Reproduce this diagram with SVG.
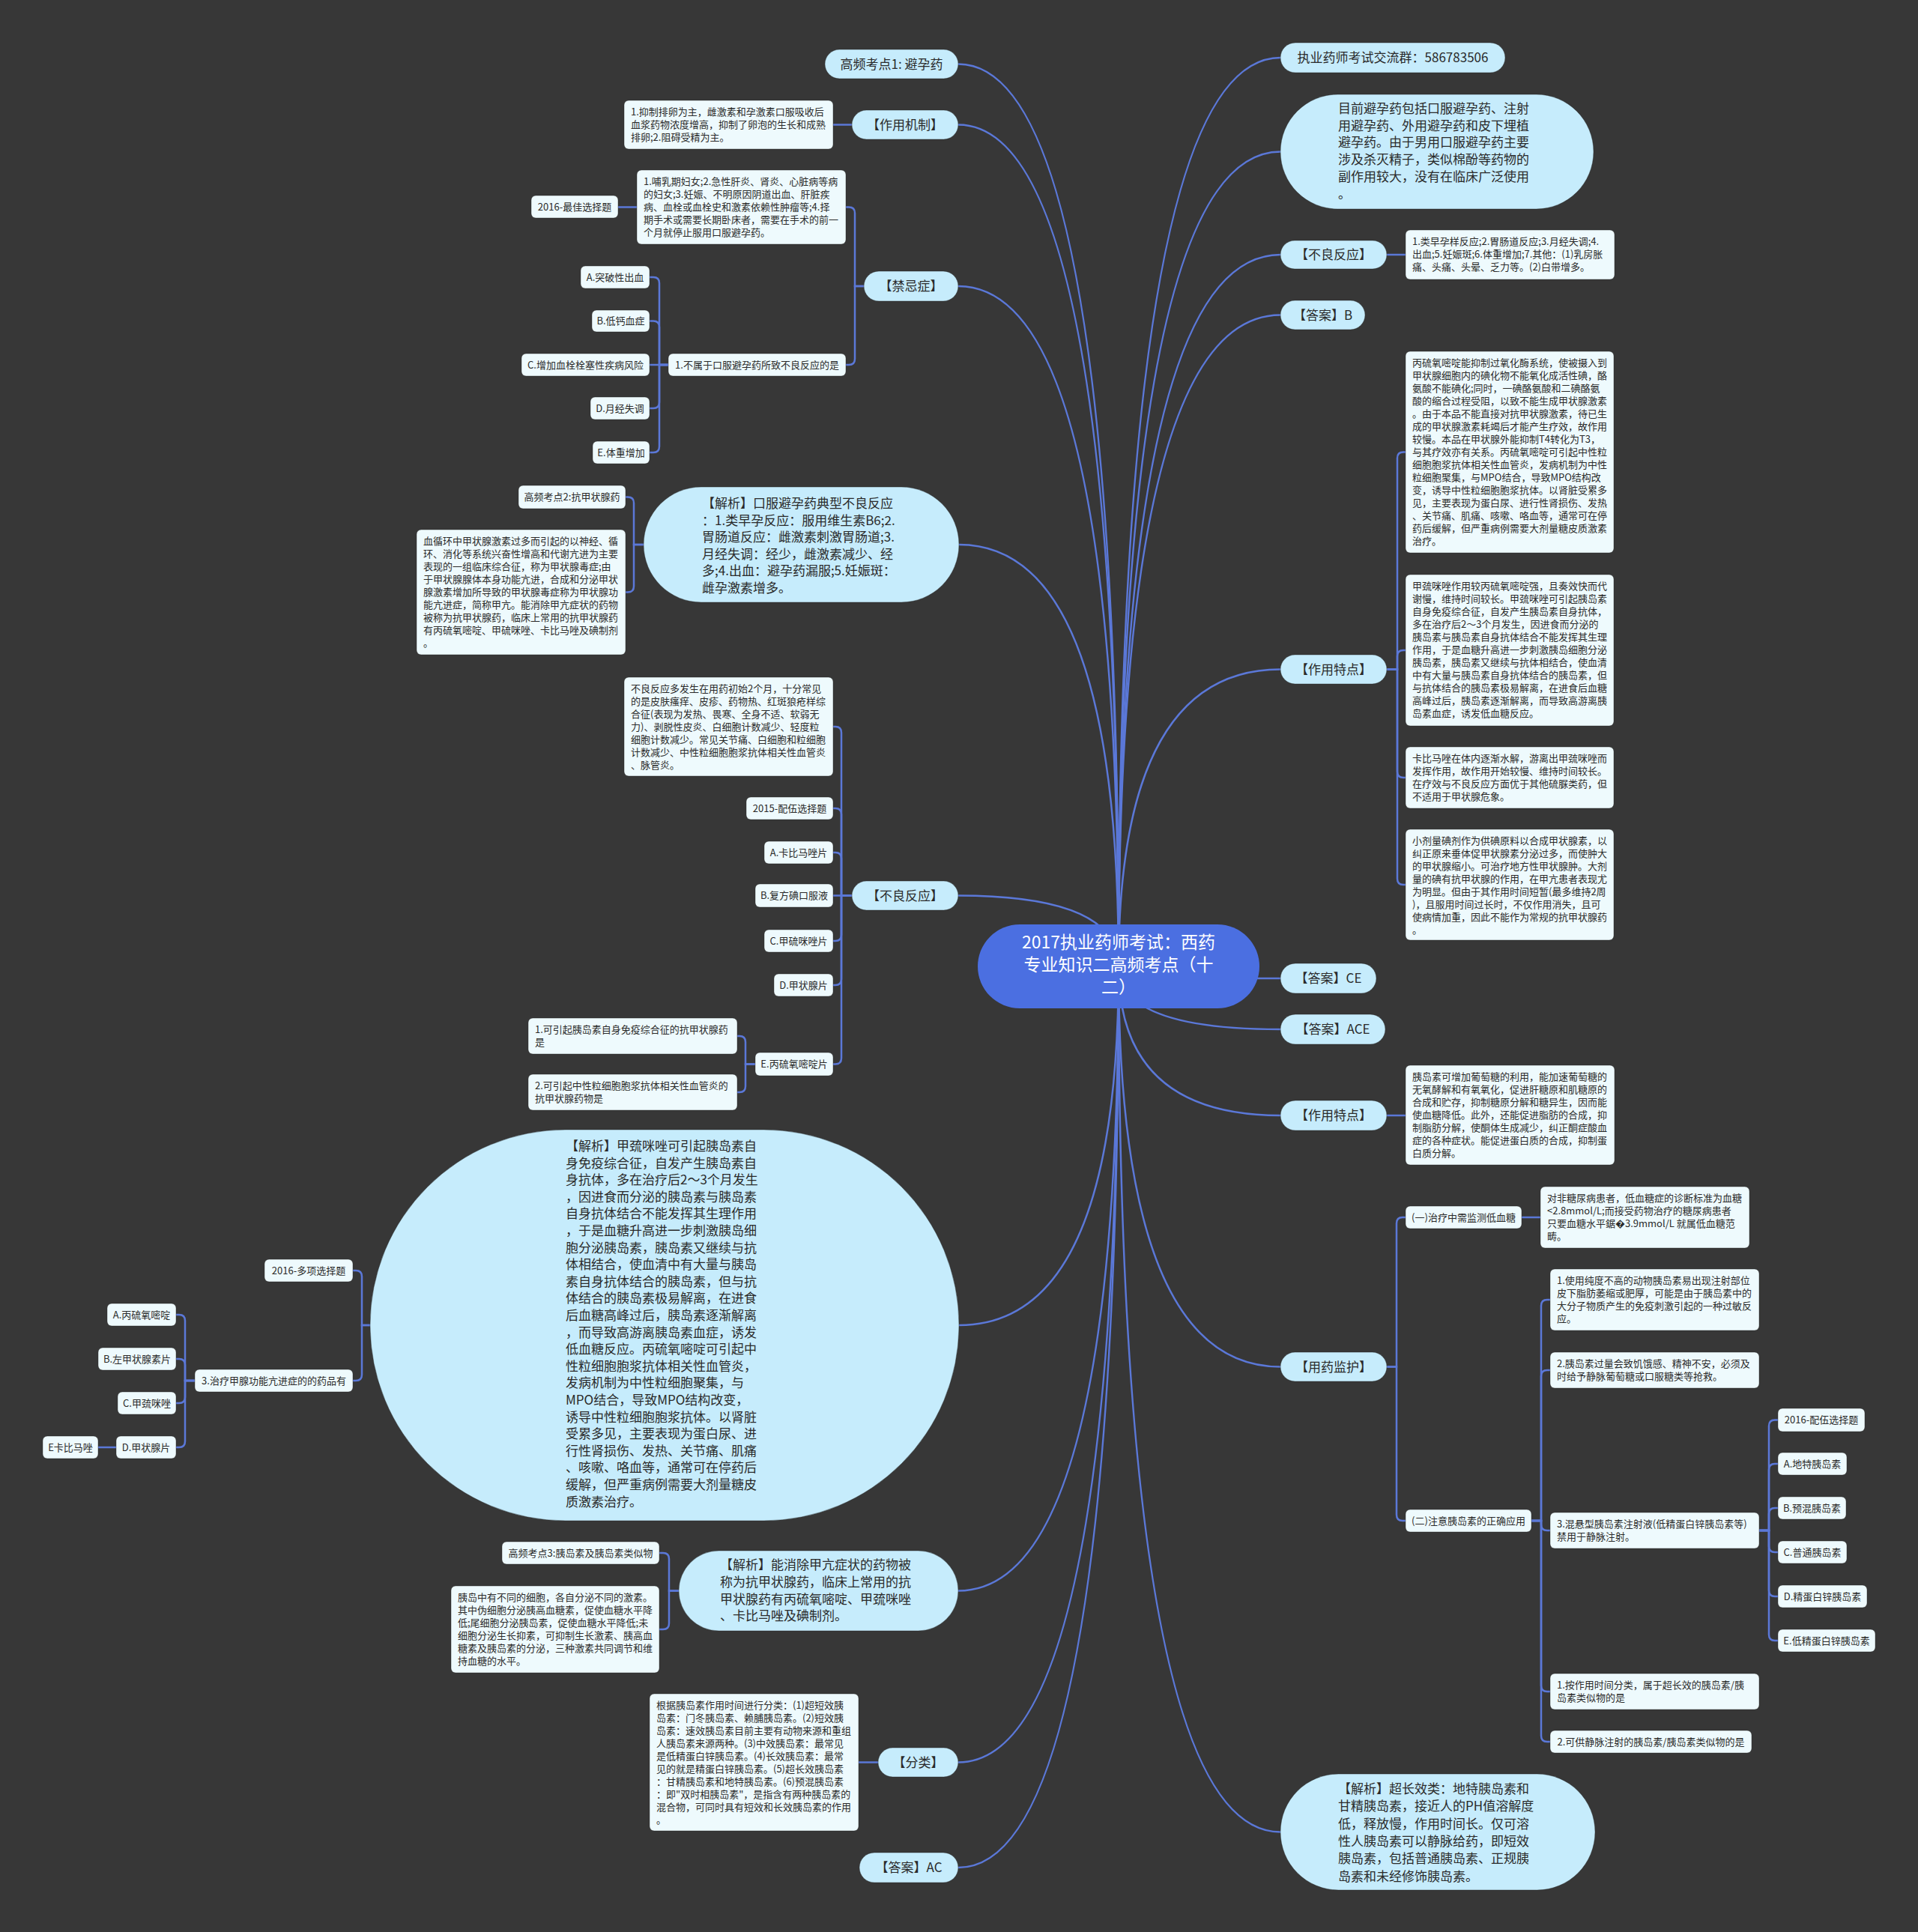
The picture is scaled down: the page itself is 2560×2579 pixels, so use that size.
<svg xmlns="http://www.w3.org/2000/svg" width="2560" height="2579" viewBox="0 0 2560 2579">
<style>
.e{fill:none;stroke:#5b78d8;stroke-width:2.5}
.p{fill:#c6ecfc;stroke:#1e1e1e;stroke-opacity:.4}
.b{fill:#eefafd;stroke:#1e1e1e;stroke-opacity:.4}
text{font-family:"Noto Sans CJK SC","Microsoft YaHei",sans-serif;fill:#2a2a2a}
.s{font-size:13px}
.m{font-size:17px}
.c{text-anchor:middle}
.rt{font-size:23px;fill:#fff;text-anchor:middle}
</style>
<rect width="2560" height="2579" fill="#373737"/>
<g id="connectors">
<path class="e" d="M1279,85.5 Q1493,85.5 1493,1290"/>
<path class="e" d="M1279,166.5 Q1493,166.5 1493,1290"/>
<path class="e" d="M1279,382 Q1493,382 1493,1290"/>
<path class="e" d="M1280,727 Q1493,727 1493,1290"/>
<path class="e" d="M1279,1195.5 Q1493,1195.5 1493,1290"/>
<path class="e" d="M1280,1769 Q1493,1769 1493,1290"/>
<path class="e" d="M1279,2123.5 Q1493,2123.5 1493,1290"/>
<path class="e" d="M1279,2352.5 Q1493,2352.5 1493,1290"/>
<path class="e" d="M1279,2493 Q1493,2493 1493,1290"/>
<path class="e" d="M1709,77 Q1493,77 1493,1290"/>
<path class="e" d="M1709,202.5 Q1493,202.5 1493,1290"/>
<path class="e" d="M1709,340 Q1493,340 1493,1290"/>
<path class="e" d="M1709,420.5 Q1493,420.5 1493,1290"/>
<path class="e" d="M1709,893.5 Q1493,893.5 1493,1290"/>
<path class="e" d="M1709,1306 Q1493,1306 1493,1290"/>
<path class="e" d="M1709,1374 Q1493,1374 1493,1290"/>
<path class="e" d="M1709,1489 Q1493,1489 1493,1290"/>
<path class="e" d="M1709,1824.5 Q1493,1824.5 1493,1290"/>
<path class="e" d="M1709,2445.5 Q1493,2445.5 1493,1290"/>
<path class="e" d="M1137,166.5 H1112"/>
<path class="e" d="M1153,382 H1141 V284.5 Q1141,276.5 1133,276.5 H1129"/>
<path class="e" d="M1153,382 H1141 V479 Q1141,487 1133,487 H1129"/>
<path class="e" d="M850,276.5 H825"/>
<path class="e" d="M892,487 H880 V378 Q880,370 872,370 H867"/>
<path class="e" d="M892,487 H880 V436.5 Q880,428.5 872,428.5 H867"/>
<path class="e" d="M892,487 H867"/>
<path class="e" d="M892,487 H880 V537 Q880,545 872,545 H867"/>
<path class="e" d="M892,487 H880 V596 Q880,604 872,604 H867"/>
<path class="e" d="M859,727 H846 V671.5 Q846,663.5 838,663.5 H835"/>
<path class="e" d="M859,727 H846 V782.5 Q846,790.5 838,790.5 H835"/>
<path class="e" d="M1137,1195.5 H1123 V978 Q1123,970 1115,970 H1112"/>
<path class="e" d="M1137,1195.5 H1123 V1087 Q1123,1079 1115,1079 H1112"/>
<path class="e" d="M1137,1195.5 H1123 V1146 Q1123,1138 1115,1138 H1112"/>
<path class="e" d="M1137,1195.5 H1112"/>
<path class="e" d="M1137,1195.5 H1123 V1248 Q1123,1256 1115,1256 H1112"/>
<path class="e" d="M1137,1195.5 H1123 V1307 Q1123,1315 1115,1315 H1112"/>
<path class="e" d="M1137,1195.5 H1123 V1412.5 Q1123,1420.5 1115,1420.5 H1112"/>
<path class="e" d="M1008,1420.5 H995 V1391 Q995,1383 987,1383 H984"/>
<path class="e" d="M1008,1420.5 H995 V1450 Q995,1458 987,1458 H984"/>
<path class="e" d="M494,1769 H483 V1704 Q483,1696 475,1696 H471"/>
<path class="e" d="M494,1769 H483 V1835 Q483,1843 475,1843 H471"/>
<path class="e" d="M260,1843 H247 V1763 Q247,1755 239,1755 H235"/>
<path class="e" d="M260,1843 H247 V1822 Q247,1814 239,1814 H235"/>
<path class="e" d="M260,1843 H247 V1865 Q247,1873 239,1873 H235"/>
<path class="e" d="M260,1843 H247 V1924 Q247,1932 239,1932 H235"/>
<path class="e" d="M155,1932 H131"/>
<path class="e" d="M906,2123.5 H893 V2081 Q893,2073 885,2073 H880"/>
<path class="e" d="M906,2123.5 H893 V2167 Q893,2175 885,2175 H880"/>
<path class="e" d="M1172,2352.5 H1146"/>
<path class="e" d="M1851,340 H1876"/>
<path class="e" d="M1851,893.5 H1865 V611.5 Q1865,603.5 1873,603.5 H1876"/>
<path class="e" d="M1851,893.5 H1865 V876 Q1865,868 1873,868 H1876"/>
<path class="e" d="M1851,893.5 H1865 V1030 Q1865,1038 1873,1038 H1876"/>
<path class="e" d="M1851,893.5 H1865 V1173 Q1865,1181 1873,1181 H1876"/>
<path class="e" d="M1851,1489 H1876"/>
<path class="e" d="M1851,1824.5 H1864 V1633 Q1864,1625 1872,1625 H1876"/>
<path class="e" d="M1851,1824.5 H1864 V2022 Q1864,2030 1872,2030 H1876"/>
<path class="e" d="M2031,1625 H2056"/>
<path class="e" d="M2044,2030 H2057 V1743 Q2057,1735 2065,1735 H2069"/>
<path class="e" d="M2044,2030 H2057 V1837 Q2057,1829 2065,1829 H2069"/>
<path class="e" d="M2044,2030 H2057 V2035 Q2057,2043 2065,2043 H2069"/>
<path class="e" d="M2044,2030 H2057 V2250 Q2057,2258 2065,2258 H2069"/>
<path class="e" d="M2044,2030 H2057 V2317 Q2057,2325 2065,2325 H2069"/>
<path class="e" d="M2348,2043 H2361 V1903.5 Q2361,1895.5 2369,1895.5 H2373"/>
<path class="e" d="M2348,2043 H2361 V1962 Q2361,1954 2369,1954 H2373"/>
<path class="e" d="M2348,2043 H2361 V2021 Q2361,2013 2369,2013 H2373"/>
<path class="e" d="M2348,2043 H2361 V2064 Q2361,2072 2369,2072 H2373"/>
<path class="e" d="M2348,2043 H2361 V2123 Q2361,2131 2369,2131 H2373"/>
<path class="e" d="M2348,2043 H2361 V2182 Q2361,2190 2369,2190 H2373"/>
</g>

<g id="root"><rect x="1305" y="1234" width="376" height="112" rx="56" fill="#4b6fe1"/>
<text class="rt" x="1493" y="1266">2017执业药师考试：西药</text>
<text class="rt" x="1493" y="1296">专业知识二高频考点（十</text>
<text class="rt" x="1493" y="1326">二）</text></g>

<g id="n-gp1"><rect class="p" x="1101" y="66" width="178" height="39" rx="19.5"/><text class="m c" x="1190" y="91.5">高频考点1: 避孕药</text></g>
<g id="n-mech"><rect class="p" x="1137" y="147" width="142" height="39" rx="19.5"/><text class="m c" x="1208" y="172.5">【作用机制】</text></g>
<g id="n-mech-t"><rect class="b" x="833" y="134" width="279" height="65" rx="6"/><text class="s" x="842" y="154"><tspan>1.抑制排卵为主，雌激素和孕激素口服吸收后</tspan><tspan x="842" dy="17">血浆药物浓度增高，抑制了卵泡的生长和成熟</tspan><tspan x="842" dy="17">排卵;2.阻碍受精为主。</tspan></text></g>
<g id="n-contra"><rect class="p" x="1153" y="362" width="126" height="40" rx="20"/><text class="m c" x="1216" y="388">【禁忌症】</text></g>
<g id="n-contra-t"><rect class="b" x="850" y="227" width="279" height="99" rx="6"/><text class="s" x="859" y="247"><tspan>1.哺乳期妇女;2.急性肝炎、肾炎、心脏病等病</tspan><tspan x="859" dy="17">的妇女;3.妊娠、不明原因阴道出血、肝脏疾</tspan><tspan x="859" dy="17">病、血栓或血栓史和激素依赖性肿瘤等;4.择</tspan><tspan x="859" dy="17">期手术或需要长期卧床者，需要在手术的前一</tspan><tspan x="859" dy="17">个月就停止服用口服避孕药。</tspan></text></g>
<g id="n-2016best"><rect class="b" x="709" y="261" width="116" height="30" rx="6"/><text class="s c" x="767" y="280.5">2016-最佳选择题</text></g>
<g id="n-q1"><rect class="b" x="892" y="472" width="237" height="30" rx="6"/><text class="s c" x="1010.5" y="491.5">1.不属于口服避孕药所致不良反应的是</text></g>
<g id="n-cA"><rect class="b" x="775" y="355" width="92" height="30" rx="6"/><text class="s c" x="821" y="374.5">A.突破性出血</text></g>
<g id="n-cB"><rect class="b" x="790" y="414" width="77" height="29" rx="6"/><text class="s c" x="828.5" y="433">B.低钙血症</text></g>
<g id="n-cC"><rect class="b" x="696" y="472" width="171" height="30" rx="6"/><text class="s c" x="781.5" y="491.5">C.增加血栓栓塞性疾病风险</text></g>
<g id="n-cD"><rect class="b" x="788" y="530" width="79" height="30" rx="6"/><text class="s c" x="827.5" y="549.5">D.月经失调</text></g>
<g id="n-cE"><rect class="b" x="791" y="589" width="76" height="30" rx="6"/><text class="s c" x="829" y="608.5">E.体重增加</text></g>

<g id="n-ana1"><rect class="p" x="859" y="650" width="421" height="154" rx="77"/><text class="m" x="937" y="678"><tspan>【解析】口服避孕药典型不良反应</tspan><tspan x="937" dy="22.5">：1.类早孕反应：服用维生素B6;2.</tspan><tspan x="937" dy="22.5">胃肠道反应：雌激素刺激胃肠道;3.</tspan><tspan x="937" dy="22.5">月经失调：经少，雌激素减少、经</tspan><tspan x="937" dy="22.5">多;4.出血：避孕药漏服;5.妊娠斑：</tspan><tspan x="937" dy="22.5">雌孕激素增多。</tspan></text></g>
<g id="n-gp2"><rect class="b" x="692" y="648" width="143" height="31" rx="6"/><text class="s c" x="763.5" y="668">高频考点2:抗甲状腺药</text></g>
<g id="n-hyper-t"><rect class="b" x="556" y="707" width="279" height="167" rx="6"/><text class="s" x="565" y="727"><tspan>血循环中甲状腺激素过多而引起的以神经、循</tspan><tspan x="565" dy="17">环、消化等系统兴奋性增高和代谢亢进为主要</tspan><tspan x="565" dy="17">表现的一组临床综合征，称为甲状腺毒症;由</tspan><tspan x="565" dy="17">于甲状腺腺体本身功能亢进，合成和分泌甲状</tspan><tspan x="565" dy="17">腺激素增加所导致的甲状腺毒症称为甲状腺功</tspan><tspan x="565" dy="17">能亢进症，简称甲亢。能消除甲亢症状的药物</tspan><tspan x="565" dy="17">被称为抗甲状腺药，临床上常用的抗甲状腺药</tspan><tspan x="565" dy="17">有丙硫氧嘧啶、甲硫咪唑、卡比马唑及碘制剂</tspan><tspan x="565" dy="17">。</tspan></text></g>

<g id="n-adr-l"><rect class="p" x="1137" y="1176" width="142" height="39" rx="19.5"/><text class="m c" x="1208" y="1201.5">【不良反应】</text></g>
<g id="n-adr-t"><rect class="b" x="833" y="904" width="279" height="132" rx="6"/><text class="s" x="842" y="924"><tspan>不良反应多发生在用药初始2个月，十分常见</tspan><tspan x="842" dy="17">的是皮肤瘙痒、皮疹、药物热、红斑狼疮样综</tspan><tspan x="842" dy="17">合征(表现为发热、畏寒、全身不适、软弱无</tspan><tspan x="842" dy="17">力)、剥脱性皮炎、白细胞计数减少、轻度粒</tspan><tspan x="842" dy="17">细胞计数减少。常见关节痛、白细胞和粒细胞</tspan><tspan x="842" dy="17">计数减少、中性粒细胞胞浆抗体相关性血管炎</tspan><tspan x="842" dy="17">、脉管炎。</tspan></text></g>
<g id="n-2015"><rect class="b" x="996" y="1064" width="116" height="30" rx="6"/><text class="s c" x="1054" y="1083.5">2015-配伍选择题</text></g>
<g id="n-aA"><rect class="b" x="1020" y="1123" width="92" height="30" rx="6"/><text class="s c" x="1066" y="1142.5">A.卡比马唑片</text></g>
<g id="n-aB"><rect class="b" x="1008" y="1180" width="104" height="31" rx="6"/><text class="s c" x="1060" y="1200">B.复方碘口服液</text></g>
<g id="n-aC"><rect class="b" x="1020" y="1241" width="92" height="30" rx="6"/><text class="s c" x="1066" y="1260.5">C.甲硫咪唑片</text></g>
<g id="n-aD"><rect class="b" x="1033" y="1300" width="79" height="30" rx="6"/><text class="s c" x="1072.5" y="1319.5">D.甲状腺片</text></g>
<g id="n-aE"><rect class="b" x="1008" y="1405" width="104" height="31" rx="6"/><text class="s c" x="1060" y="1425">E.丙硫氧嘧啶片</text></g>
<g id="n-e1"><rect class="b" x="705" y="1359" width="279" height="48" rx="6"/><text class="s" x="714" y="1379"><tspan>1.可引起胰岛素自身免疫综合征的抗甲状腺药</tspan><tspan x="714" dy="17">是</tspan></text></g>
<g id="n-e2"><rect class="b" x="705" y="1434" width="279" height="48" rx="6"/><text class="s" x="714" y="1454"><tspan>2.可引起中性粒细胞胞浆抗体相关性血管炎的</tspan><tspan x="714" dy="17">抗甲状腺药物是</tspan></text></g>

<g id="n-ana-big"><rect class="p" x="494" y="1508" width="786" height="522" rx="261"/><text class="m" x="755" y="1536"><tspan>【解析】甲巯咪唑可引起胰岛素自</tspan><tspan x="755" dy="22.6">身免疫综合征，自发产生胰岛素自</tspan><tspan x="755" dy="22.6">身抗体，多在治疗后2～3个月发生</tspan><tspan x="755" dy="22.6">，因进食而分泌的胰岛素与胰岛素</tspan><tspan x="755" dy="22.6">自身抗体结合不能发挥其生理作用</tspan><tspan x="755" dy="22.6">，于是血糖升高进一步刺激胰岛细</tspan><tspan x="755" dy="22.6">胞分泌胰岛素，胰岛素又继续与抗</tspan><tspan x="755" dy="22.6">体相结合，使血清中有大量与胰岛</tspan><tspan x="755" dy="22.6">素自身抗体结合的胰岛素，但与抗</tspan><tspan x="755" dy="22.6">体结合的胰岛素极易解离，在进食</tspan><tspan x="755" dy="22.6">后血糖高峰过后，胰岛素逐渐解离</tspan><tspan x="755" dy="22.6">，而导致高游离胰岛素血症，诱发</tspan><tspan x="755" dy="22.6">低血糖反应。丙硫氧嘧啶可引起中</tspan><tspan x="755" dy="22.6">性粒细胞胞浆抗体相关性血管炎，</tspan><tspan x="755" dy="22.6">发病机制为中性粒细胞聚集，与</tspan><tspan x="755" dy="22.6">MPO结合，导致MPO结构改变，</tspan><tspan x="755" dy="22.6">诱导中性粒细胞胞浆抗体。以肾脏</tspan><tspan x="755" dy="22.6">受累多见，主要表现为蛋白尿、进</tspan><tspan x="755" dy="22.6">行性肾损伤、发热、关节痛、肌痛</tspan><tspan x="755" dy="22.6">、咳嗽、咯血等，通常可在停药后</tspan><tspan x="755" dy="22.6">缓解，但严重病例需要大剂量糖皮</tspan><tspan x="755" dy="22.6">质激素治疗。</tspan></text></g>
<g id="n-2016multi"><rect class="b" x="353" y="1681" width="118" height="30" rx="6"/><text class="s c" x="412" y="1700.5">2016-多项选择题</text></g>
<g id="n-q3"><rect class="b" x="260" y="1828" width="211" height="30" rx="6"/><text class="s c" x="365.5" y="1847.5">3.治疗甲腺功能亢进症的的药品有</text></g>
<g id="n-mA"><rect class="b" x="143" y="1740" width="92" height="30" rx="6"/><text class="s c" x="189" y="1759.5">A.丙硫氧嘧啶</text></g>
<g id="n-mB"><rect class="b" x="131" y="1799" width="104" height="30" rx="6"/><text class="s c" x="183" y="1818.5">B.左甲状腺素片</text></g>
<g id="n-mC"><rect class="b" x="157" y="1858" width="78" height="30" rx="6"/><text class="s c" x="196" y="1877.5">C.甲巯咪唑</text></g>
<g id="n-mD"><rect class="b" x="155" y="1917" width="80" height="30" rx="6"/><text class="s c" x="195" y="1936.5">D.甲状腺片</text></g>
<g id="n-mE"><rect class="b" x="57" y="1917" width="74" height="30" rx="6"/><text class="s c" x="94" y="1936.5">E卡比马唑</text></g>

<g id="n-ana2"><rect class="p" x="906" y="2070" width="373" height="107" rx="53.5"/><text class="m" x="961" y="2095"><tspan>【解析】能消除甲亢症状的药物被</tspan><tspan x="961" dy="22.8">称为抗甲状腺药，临床上常用的抗</tspan><tspan x="961" dy="22.8">甲状腺药有丙硫氧嘧啶、甲巯咪唑</tspan><tspan x="961" dy="22.8">、卡比马唑及碘制剂。</tspan></text></g>
<g id="n-gp3"><rect class="b" x="670" y="2058" width="210" height="30" rx="6"/><text class="s c" x="775" y="2077.5">高频考点3:胰岛素及胰岛素类似物</text></g>
<g id="n-islet-t"><rect class="b" x="602" y="2117" width="278" height="116" rx="6"/><text class="s" x="611" y="2137"><tspan>胰岛中有不同的细胞，各自分泌不同的激素。</tspan><tspan x="611" dy="17">其中伪细胞分泌胰高血糖素，促使血糖水平降</tspan><tspan x="611" dy="17">低;尾细胞分泌胰岛素，促使血糖水平降低;未</tspan><tspan x="611" dy="17">细胞分泌生长抑素，可抑制生长激素、胰高血</tspan><tspan x="611" dy="17">糖素及胰岛素的分泌，三种激素共同调节和维</tspan><tspan x="611" dy="17">持血糖的水平。</tspan></text></g>
<g id="n-class"><rect class="p" x="1172" y="2333" width="107" height="39" rx="19.5"/><text class="m c" x="1225.5" y="2358.5">【分类】</text></g>
<g id="n-class-t"><rect class="b" x="867" y="2261" width="279" height="183" rx="6"/><text class="s" x="876" y="2281"><tspan>根据胰岛素作用时间进行分类：(1)超短效胰</tspan><tspan x="876" dy="17">岛素：门冬胰岛素、赖脯胰岛素。(2)短效胰</tspan><tspan x="876" dy="17">岛素：速效胰岛素目前主要有动物来源和重组</tspan><tspan x="876" dy="17">人胰岛素来源两种。(3)中效胰岛素：最常见</tspan><tspan x="876" dy="17">是低精蛋白锌胰岛素。(4)长效胰岛素：最常</tspan><tspan x="876" dy="17">见的就是精蛋白锌胰岛素。(5)超长效胰岛素</tspan><tspan x="876" dy="17">：甘精胰岛素和地特胰岛素。(6)预混胰岛素</tspan><tspan x="876" dy="17">：即"双时相胰岛素"，是指含有两种胰岛素的</tspan><tspan x="876" dy="17">混合物，可同时具有短效和长效胰岛素的作用</tspan><tspan x="876" dy="17">。</tspan></text></g>
<g id="n-ansAC"><rect class="p" x="1147" y="2473" width="132" height="40" rx="20"/><text class="m c" x="1213" y="2499">【答案】AC</text></g>

<g id="n-group"><rect class="p" x="1709" y="57" width="300" height="40" rx="20"/><text class="m c" x="1859" y="83">执业药师考试交流群：586783506</text></g>
<g id="n-current"><rect class="p" x="1709" y="126" width="418" height="153" rx="76.5"/><text class="m" x="1786" y="151"><tspan>目前避孕药包括口服避孕药、注射</tspan><tspan x="1786" dy="22.7">用避孕药、外用避孕药和皮下埋植</tspan><tspan x="1786" dy="22.7">避孕药。由于男用口服避孕药主要</tspan><tspan x="1786" dy="22.7">涉及杀灭精子，类似棉酚等药物的</tspan><tspan x="1786" dy="22.7">副作用较大，没有在临床广泛使用</tspan><tspan x="1786" dy="22.7">。</tspan></text></g>
<g id="n-adr-r"><rect class="p" x="1709" y="321" width="142" height="38" rx="19"/><text class="m c" x="1780" y="346">【不良反应】</text></g>
<g id="n-adr-r-t"><rect class="b" x="1876" y="307" width="279" height="66" rx="6"/><text class="s" x="1885" y="327"><tspan>1.类早孕样反应;2.胃肠道反应;3.月经失调;4.</tspan><tspan x="1885" dy="17">出血;5.妊娠斑;6.体重增加;7.其他：(1)乳房胀</tspan><tspan x="1885" dy="17">痛、头痛、头晕、乏力等。(2)白带增多。</tspan></text></g>
<g id="n-ansB"><rect class="p" x="1709" y="401" width="113" height="39" rx="19.5"/><text class="m c" x="1765.5" y="426.5">【答案】B</text></g>
<g id="n-feat1"><rect class="p" x="1709" y="874" width="142" height="39" rx="19.5"/><text class="m c" x="1780" y="899.5">【作用特点】</text></g>
<g id="n-ptu-t"><rect class="b" x="1876" y="469" width="278" height="269" rx="6"/><text class="s" x="1885" y="489"><tspan>丙硫氧嘧啶能抑制过氧化酶系统，使被摄入到</tspan><tspan x="1885" dy="17">甲状腺细胞内的碘化物不能氧化成活性碘，酪</tspan><tspan x="1885" dy="17">氨酸不能碘化;同时，一碘酪氨酸和二碘酪氨</tspan><tspan x="1885" dy="17">酸的缩合过程受阻，以致不能生成甲状腺激素</tspan><tspan x="1885" dy="17">。由于本品不能直接对抗甲状腺激素，待已生</tspan><tspan x="1885" dy="17">成的甲状腺激素耗竭后才能产生疗效，故作用</tspan><tspan x="1885" dy="17">较慢。本品在甲状腺外能抑制T4转化为T3，</tspan><tspan x="1885" dy="17">与其疗效亦有关系。丙硫氧嘧啶可引起中性粒</tspan><tspan x="1885" dy="17">细胞胞浆抗体相关性血管炎，发病机制为中性</tspan><tspan x="1885" dy="17">粒细胞聚集，与MPO结合，导致MPO结构改</tspan><tspan x="1885" dy="17">变，诱导中性粒细胞胞浆抗体。以肾脏受累多</tspan><tspan x="1885" dy="17">见，主要表现为蛋白尿、进行性肾损伤、发热</tspan><tspan x="1885" dy="17">、关节痛、肌痛、咳嗽、咯血等，通常可在停</tspan><tspan x="1885" dy="17">药后缓解，但严重病例需要大剂量糖皮质激素</tspan><tspan x="1885" dy="17">治疗。</tspan></text></g>
<g id="n-mmi-t"><rect class="b" x="1876" y="767" width="278" height="202" rx="6"/><text class="s" x="1885" y="787"><tspan>甲巯咪唑作用较丙硫氧嘧啶强，且奏效快而代</tspan><tspan x="1885" dy="17">谢慢，维持时间较长。甲巯咪唑可引起胰岛素</tspan><tspan x="1885" dy="17">自身免疫综合征，自发产生胰岛素自身抗体，</tspan><tspan x="1885" dy="17">多在治疗后2～3个月发生，因进食而分泌的</tspan><tspan x="1885" dy="17">胰岛素与胰岛素自身抗体结合不能发挥其生理</tspan><tspan x="1885" dy="17">作用，于是血糖升高进一步刺激胰岛细胞分泌</tspan><tspan x="1885" dy="17">胰岛素，胰岛素又继续与抗体相结合，使血清</tspan><tspan x="1885" dy="17">中有大量与胰岛素自身抗体结合的胰岛素，但</tspan><tspan x="1885" dy="17">与抗体结合的胰岛素极易解离，在进食后血糖</tspan><tspan x="1885" dy="17">高峰过后，胰岛素逐渐解离，而导致高游离胰</tspan><tspan x="1885" dy="17">岛素血症，诱发低血糖反应。</tspan></text></g>
<g id="n-cbz-t"><rect class="b" x="1876" y="997" width="278" height="82" rx="6"/><text class="s" x="1885" y="1017"><tspan>卡比马唑在体内逐渐水解，游离出甲巯咪唑而</tspan><tspan x="1885" dy="17">发挥作用，故作用开始较慢、维持时间较长。</tspan><tspan x="1885" dy="17">在疗效与不良反应方面优于其他硫脲类药，但</tspan><tspan x="1885" dy="17">不适用于甲状腺危象。</tspan></text></g>
<g id="n-iod-t"><rect class="b" x="1876" y="1107" width="278" height="148" rx="6"/><text class="s" x="1885" y="1127"><tspan>小剂量碘剂作为供碘原料以合成甲状腺素，以</tspan><tspan x="1885" dy="17">纠正原来垂体促甲状腺素分泌过多，而使肿大</tspan><tspan x="1885" dy="17">的甲状腺缩小。可治疗地方性甲状腺肿。大剂</tspan><tspan x="1885" dy="17">量的碘有抗甲状腺的作用，在甲亢患者表现尤</tspan><tspan x="1885" dy="17">为明显。但由于其作用时间短暂(最多维持2周</tspan><tspan x="1885" dy="17">)，且服用时间过长时，不仅作用消失，且可</tspan><tspan x="1885" dy="17">使病情加重，因此不能作为常规的抗甲状腺药</tspan><tspan x="1885" dy="17">。</tspan></text></g>
<g id="n-ansCE"><rect class="p" x="1709" y="1286" width="128" height="40" rx="20"/><text class="m c" x="1773" y="1312">【答案】CE</text></g>
<g id="n-ansACE"><rect class="p" x="1709" y="1354" width="140" height="40" rx="20"/><text class="m c" x="1779" y="1380">【答案】ACE</text></g>
<g id="n-feat2"><rect class="p" x="1709" y="1469" width="142" height="40" rx="20"/><text class="m c" x="1780" y="1495">【作用特点】</text></g>
<g id="n-ins-t"><rect class="b" x="1876" y="1422" width="279" height="133" rx="6"/><text class="s" x="1885" y="1442"><tspan>胰岛素可增加葡萄糖的利用，能加速葡萄糖的</tspan><tspan x="1885" dy="17">无氧酵解和有氧氧化，促进肝糖原和肌糖原的</tspan><tspan x="1885" dy="17">合成和贮存，抑制糖原分解和糖异生，因而能</tspan><tspan x="1885" dy="17">使血糖降低。此外，还能促进脂肪的合成，抑</tspan><tspan x="1885" dy="17">制脂肪分解，使酮体生成减少，纠正酮症酸血</tspan><tspan x="1885" dy="17">症的各种症状。能促进蛋白质的合成，抑制蛋</tspan><tspan x="1885" dy="17">白质分解。</tspan></text></g>
<g id="n-monitor"><rect class="p" x="1709" y="1805" width="142" height="39" rx="19.5"/><text class="m c" x="1780" y="1830.5">【用药监护】</text></g>
<g id="n-mon1"><rect class="b" x="1876" y="1610" width="155" height="30" rx="6"/><text class="s c" x="1953.5" y="1629.5">(一)治疗中需监测低血糖</text></g>
<g id="n-hypo-t"><rect class="b" x="2056" y="1584" width="279" height="82" rx="6"/><text class="s" x="2065" y="1604"><tspan>对非糖尿病患者，低血糖症的诊断标准为血糖</tspan><tspan x="2065" dy="17">&lt;2.8mmol/L;而接受药物治疗的糖尿病患者</tspan><tspan x="2065" dy="17">只要血糖水平鋸�3.9mmol/L 就属低血糖范</tspan><tspan x="2065" dy="17">畴。</tspan></text></g>
<g id="n-mon2"><rect class="b" x="1876" y="2015" width="168" height="30" rx="6"/><text class="s c" x="1960" y="2034.5">(二)注意胰岛素的正确应用</text></g>
<g id="n-u1"><rect class="b" x="2069" y="1694" width="279" height="82" rx="6"/><text class="s" x="2078" y="1714"><tspan>1.使用纯度不高的动物胰岛素易出现注射部位</tspan><tspan x="2078" dy="17">皮下脂肪萎缩或肥厚，可能是由于胰岛素中的</tspan><tspan x="2078" dy="17">大分子物质产生的免疫刺激引起的一种过敏反</tspan><tspan x="2078" dy="17">应。</tspan></text></g>
<g id="n-u2"><rect class="b" x="2069" y="1805" width="279" height="48" rx="6"/><text class="s" x="2078" y="1825"><tspan>2.胰岛素过量会致饥饿感、精神不安，必须及</tspan><tspan x="2078" dy="17">时给予静脉葡萄糖或口服糖类等抢救。</tspan></text></g>
<g id="n-u3"><rect class="b" x="2069" y="2019" width="279" height="48" rx="6"/><text class="s" x="2078" y="2039"><tspan>3.混悬型胰岛素注射液(低精蛋白锌胰岛素等)</tspan><tspan x="2078" dy="17">禁用于静脉注射。</tspan></text></g>
<g id="n-u4"><rect class="b" x="2069" y="2234" width="279" height="48" rx="6"/><text class="s" x="2078" y="2254"><tspan>1.按作用时间分类，属于超长效的胰岛素/胰</tspan><tspan x="2078" dy="17">岛素类似物的是</tspan></text></g>
<g id="n-u5"><rect class="b" x="2069" y="2310" width="269" height="30" rx="6"/><text class="s c" x="2203.5" y="2329.5">2.可供静脉注射的胰岛素/胰岛素类似物的是</text></g>
<g id="n-2016pw"><rect class="b" x="2373" y="1880" width="116" height="31" rx="6"/><text class="s c" x="2431" y="1900">2016-配伍选择题</text></g>
<g id="n-iA"><rect class="b" x="2373" y="1939" width="92" height="30" rx="6"/><text class="s c" x="2419" y="1958.5">A.地特胰岛素</text></g>
<g id="n-iB"><rect class="b" x="2373" y="1998" width="91" height="30" rx="6"/><text class="s c" x="2418.5" y="2017.5">B.预混胰岛素</text></g>
<g id="n-iC"><rect class="b" x="2373" y="2057" width="92" height="30" rx="6"/><text class="s c" x="2419" y="2076.5">C.普通胰岛素</text></g>
<g id="n-iD"><rect class="b" x="2373" y="2116" width="119" height="30" rx="6"/><text class="s c" x="2432.5" y="2135.5">D.精蛋白锌胰岛素</text></g>
<g id="n-iE"><rect class="b" x="2373" y="2175" width="130" height="30" rx="6"/><text class="s c" x="2438" y="2194.5">E.低精蛋白锌胰岛素</text></g>
<g id="n-ana3"><rect class="p" x="1709" y="2368" width="420" height="155" rx="77.5"/><text class="m" x="1786" y="2394"><tspan>【解析】超长效类：地特胰岛素和</tspan><tspan x="1786" dy="23.3">甘精胰岛素，接近人的PH值溶解度</tspan><tspan x="1786" dy="23.3">低，释放慢，作用时间长。仅可溶</tspan><tspan x="1786" dy="23.3">性人胰岛素可以静脉给药，即短效</tspan><tspan x="1786" dy="23.3">胰岛素，包括普通胰岛素、正规胰</tspan><tspan x="1786" dy="23.3">岛素和未经修饰胰岛素。</tspan></text></g>
</svg>
